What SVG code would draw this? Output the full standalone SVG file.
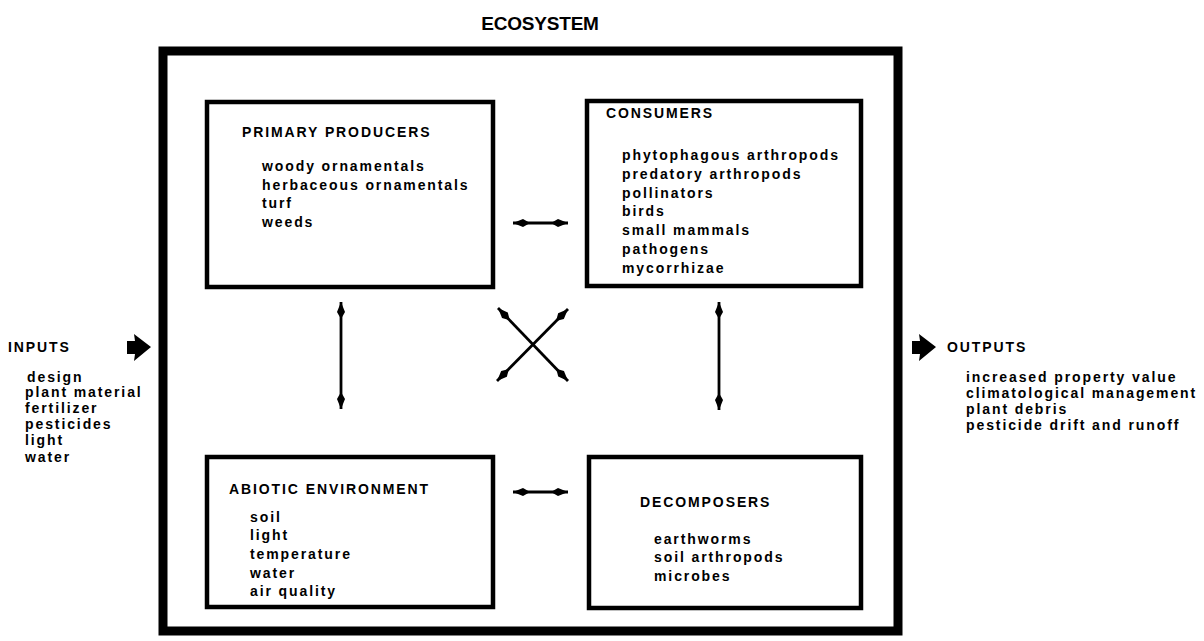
<svg xmlns="http://www.w3.org/2000/svg" width="1204" height="641" viewBox="0 0 1204 641">
<style>
text{font-family:"Liberation Sans",Arial,sans-serif;font-weight:bold;fill:#000;font-size:14px;letter-spacing:1.9px}
.title{font-size:19px;letter-spacing:-0.2px}
.box{fill:none;stroke:#000;stroke-width:4.5}
.outer{fill:none;stroke:#000;stroke-width:9}
.conn line{stroke:#000;stroke-width:2.8;marker-start:url(#spear);marker-end:url(#spear)}
</style>
<defs>
<marker id="spear" viewBox="-4 -5 19 10" refX="14" refY="0" markerWidth="19" markerHeight="10" markerUnits="userSpaceOnUse" orient="auto-start-reverse">
<path d="M-3,0 L4,-4 L14,0 L4,4 Z" fill="#000"/>
</marker>
</defs>
<rect width="1204" height="641" fill="#fff"/>
<text class="title" x="540" y="30" text-anchor="middle">ECOSYSTEM</text>
<g id="ecosystem"><rect class="outer" x="163" y="51" width="735" height="580"/></g>
<g id="primary-producers">
<rect class="box" x="207" y="102" width="286" height="185"/>
<text x="242" y="137">PRIMARY PRODUCERS</text>
<text x="262" y="171">woody ornamentals</text>
<text x="262" y="190">herbaceous ornamentals</text>
<text x="262" y="208">turf</text>
<text x="262" y="227">weeds</text>
</g>
<g id="consumers">
<rect class="box" x="587" y="101" width="274" height="185"/>
<text x="606" y="118">CONSUMERS</text>
<text x="622" y="160">phytophagous arthropods</text>
<text x="622" y="179">predatory arthropods</text>
<text x="622" y="198">pollinators</text>
<text x="622" y="216">birds</text>
<text x="622" y="235">small mammals</text>
<text x="622" y="254">pathogens</text>
<text x="622" y="273">mycorrhizae</text>
</g>
<g id="abiotic-environment">
<rect class="box" x="207" y="457" width="286" height="150"/>
<text x="229" y="494">ABIOTIC ENVIRONMENT</text>
<text x="250" y="522">soil</text>
<text x="250" y="540">light</text>
<text x="250" y="559">temperature</text>
<text x="250" y="578">water</text>
<text x="250" y="596">air quality</text>
</g>
<g id="decomposers">
<rect class="box" x="589" y="457" width="272" height="151"/>
<text x="640" y="507">DECOMPOSERS</text>
<text x="654" y="544">earthworms</text>
<text x="654" y="562">soil arthropods</text>
<text x="654" y="581">microbes</text>
</g>
<g id="inputs">
<polygon points="127,341 135,341 134,334 151,347 134,361 135,354 127,354" fill="#000"/>
<text x="8" y="352">INPUTS</text>
<text x="27" y="382">design</text>
<text x="25" y="397">plant material</text>
<text x="25" y="413">fertilizer</text>
<text x="25" y="429">pesticides</text>
<text x="25" y="445">light</text>
<text x="25" y="462">water</text>
</g>
<g id="outputs">
<polygon points="912,341 920,341 919,334 936,347 919,361 920,354 912,354" fill="#000"/>
<text x="947" y="352">OUTPUTS</text>
<text x="966" y="382">increased property value</text>
<text x="966" y="398">climatological management</text>
<text x="966" y="414">plant debris</text>
<text x="966" y="430">pesticide drift and runoff</text>
</g>
<g id="connectors" class="conn">
<line x1="513" y1="223" x2="568" y2="223"/>
<line x1="513" y1="492" x2="568" y2="492"/>
<line x1="341" y1="302" x2="341" y2="409"/>
<line x1="719" y1="302" x2="719" y2="410"/>
<line x1="498" y1="308" x2="568" y2="381"/>
<line x1="568" y1="309" x2="497" y2="381"/>
</g>
</svg>
